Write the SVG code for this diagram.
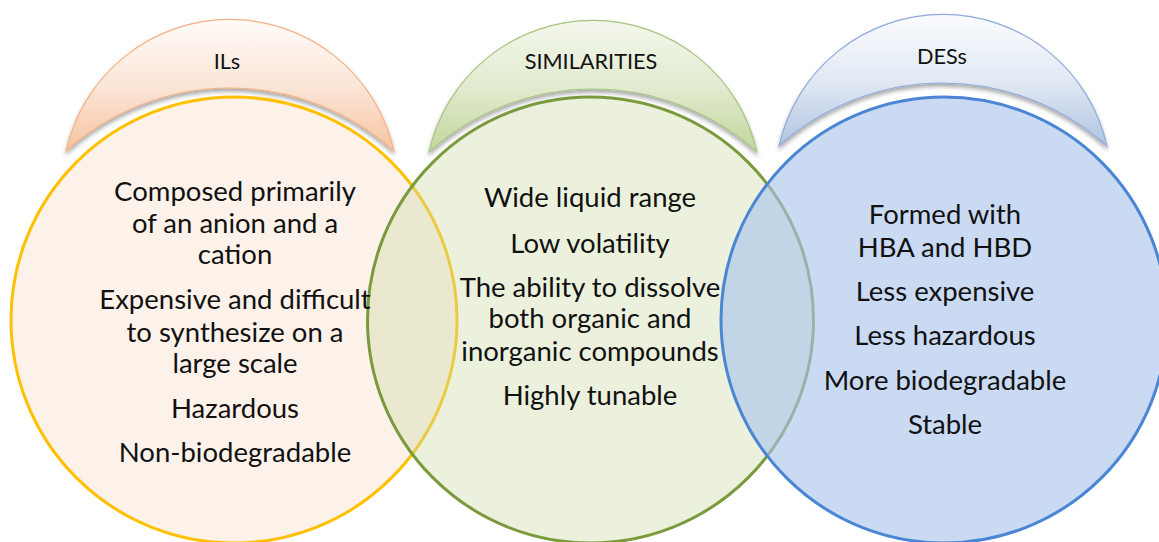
<svg xmlns="http://www.w3.org/2000/svg" width="1159" height="542" viewBox="0 0 1159 542">
  <defs>
    <linearGradient id="gOrange" x1="0" y1="0" x2="0" y2="1">
      <stop offset="0" stop-color="#FFFBF8"/>
      <stop offset="0.5" stop-color="#FBE6D8"/>
      <stop offset="1" stop-color="#F6C4A1"/>
    </linearGradient>
    <linearGradient id="gGreen" x1="0" y1="0" x2="0" y2="1">
      <stop offset="0" stop-color="#F3F7EC"/>
      <stop offset="0.5" stop-color="#E2EBD0"/>
      <stop offset="1" stop-color="#C2D69C"/>
    </linearGradient>
    <linearGradient id="gBlue" x1="0" y1="0" x2="0" y2="1">
      <stop offset="0" stop-color="#FBFCFE"/>
      <stop offset="0.5" stop-color="#E2E9F4"/>
      <stop offset="1" stop-color="#AFC3E0"/>
    </linearGradient>
    <filter id="shadow" x="-10%" y="-10%" width="120%" height="130%">
      <feDropShadow dx="0" dy="3" stdDeviation="2" flood-color="#000" flood-opacity="0.35"/>
    </filter>
    <path id="capShape" d="M-164,0 A168,168 0 0 1 164,0 A245,245 0 0 0 -164,0 Z"/>
  </defs>
  <style>
    .cap { filter: url(#shadow); stroke-width: 1.2; }
    .lbl { font-family: Lato, "Liberation Sans", sans-serif; font-size: 21.7px; fill: #111; text-anchor: middle; }
    .body { font-family: Lato, "Liberation Sans", sans-serif; font-size: 27.5px; fill: #111; text-anchor: middle; }
    .circ { stroke-width: 3; }
  </style>

  <g id="node-ils">
    <use href="#capShape" class="cap" transform="translate(230,151)" fill="url(#gOrange)" stroke="#F4B183"/>
    <text class="lbl" x="227" y="69">ILs</text>
    <circle class="circ" cx="234" cy="320" r="223" fill="#FDF2EA" stroke="#FFC000"/>
  </g>

  <g id="node-similarities">
    <use href="#capShape" class="cap" transform="translate(593,152)" fill="url(#gGreen)" stroke="#A9C47F"/>
    <text class="lbl" x="591" y="69">SIMILARITIES</text>
    <circle class="circ" cx="590.5" cy="320" r="223" fill="#CCDDAA" fill-opacity="0.4" stroke="#7A9A3C"/>
  </g>

  <g id="node-dess">
    <use href="#capShape" class="cap" transform="translate(943,146)" fill="url(#gBlue)" stroke="#8EAADB"/>
    <text class="lbl" x="942" y="64">DESs</text>
    <circle class="circ" cx="944" cy="320" r="223" fill="#A9C4EB" fill-opacity="0.62" stroke="#4A86D4"/>
  </g>

  <g id="texts">
    <g id="text-ils">
      <text class="body" x="235" y="201">Composed primarily</text>
      <text class="body" x="235" y="233">of an anion and a</text>
      <text class="body" x="235" y="264">cation</text>
      <text class="body" x="235" y="309">Expensive and difficult</text>
      <text class="body" x="235" y="342">to synthesize on a</text>
      <text class="body" x="235" y="373">large scale</text>
      <text class="body" x="235" y="418">Hazardous</text>
      <text class="body" x="235" y="462">Non-biodegradable</text>
    </g>
    <g id="text-similarities">
      <text class="body" x="590" y="207">Wide liquid range</text>
      <text class="body" x="590" y="253">Low volatility</text>
      <text class="body" x="590" y="297">The ability to dissolve</text>
      <text class="body" x="590" y="328">both organic and</text>
      <text class="body" x="590" y="361">inorganic compounds</text>
      <text class="body" x="590" y="405">Highly tunable</text>
    </g>
    <g id="text-dess">
      <text class="body" x="945" y="224">Formed with</text>
      <text class="body" x="945" y="257">HBA and HBD</text>
      <text class="body" x="945" y="301">Less expensive</text>
      <text class="body" x="945" y="345">Less hazardous</text>
      <text class="body" x="945" y="390">More biodegradable</text>
      <text class="body" x="945" y="434">Stable</text>
    </g>
  </g>
</svg>
